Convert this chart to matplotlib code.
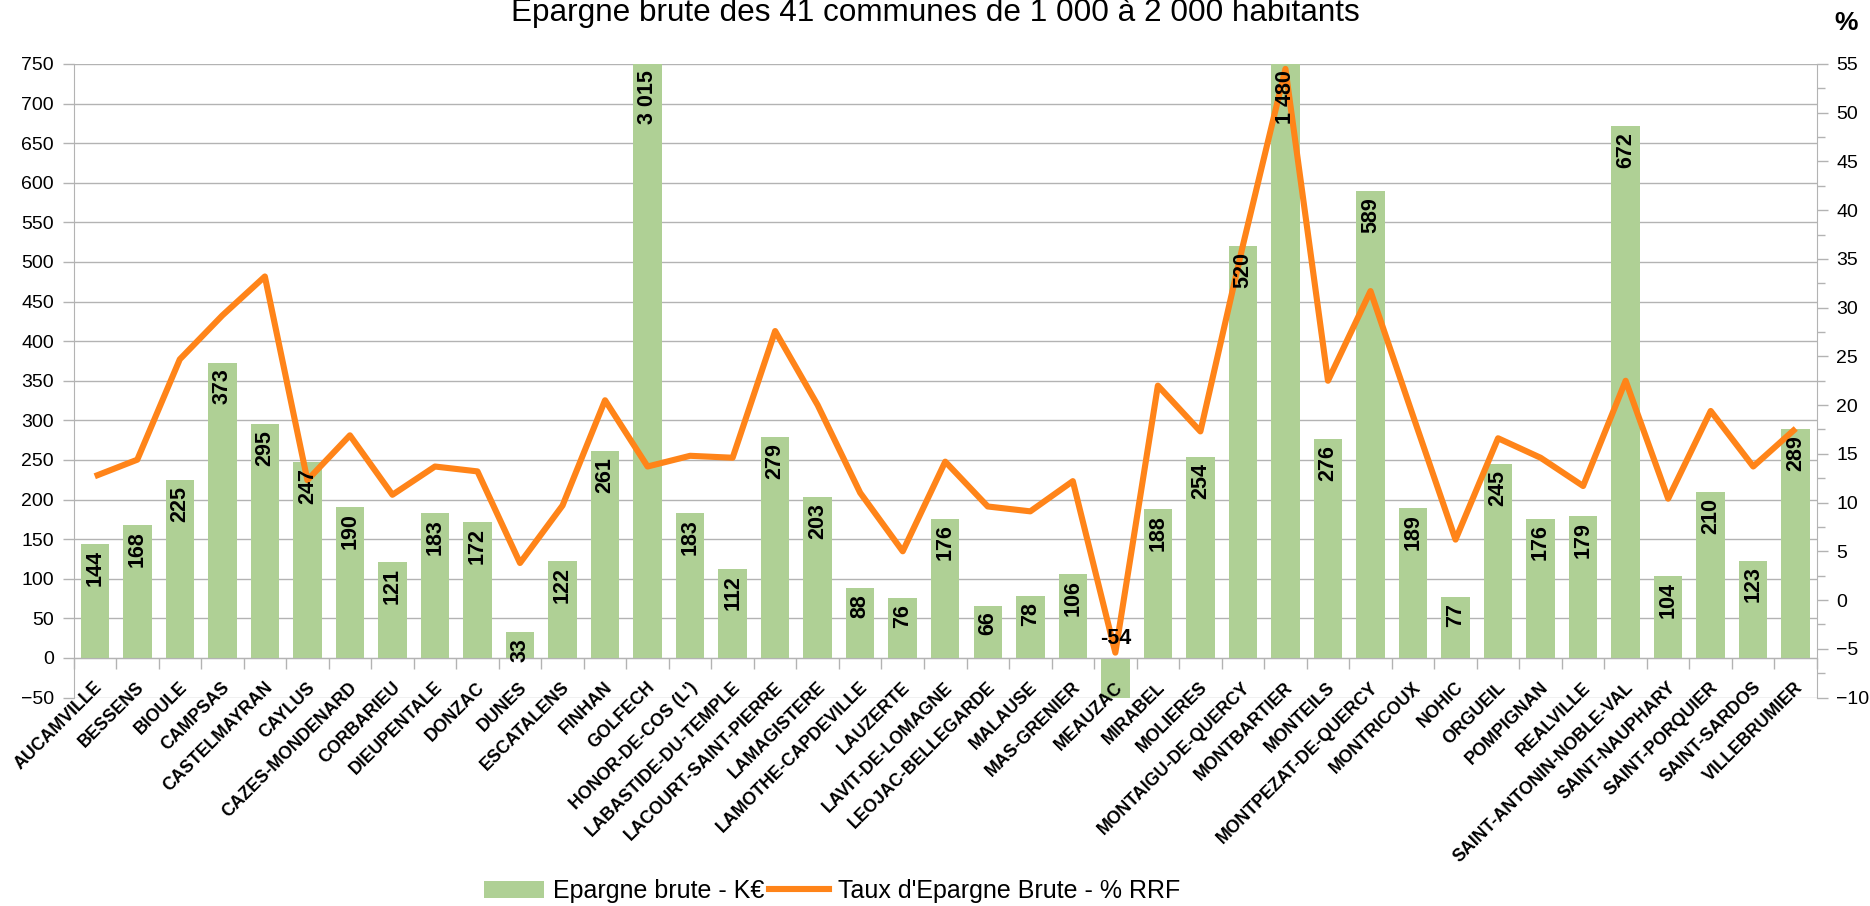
import numpy as np
import matplotlib
matplotlib.use("Agg")
import matplotlib.pyplot as plt
from matplotlib.transforms import ScaledTranslation
from matplotlib.patches import Patch
from matplotlib.lines import Line2D
from matplotlib.ticker import MultipleLocator

plt.rcParams['font.family'] = ['Liberation Sans', 'DejaVu Sans']

communes = ["AUCAMVILLE", "BESSENS", "BIOULE", "CAMPSAS", "CASTELMAYRAN", "CAYLUS",
            "CAZES-MONDENARD", "CORBARIEU", "DIEUPENTALE", "DONZAC", "DUNES", "ESCATALENS",
            "FINHAN", "GOLFECH", "HONOR-DE-COS (L')", "LABASTIDE-DU-TEMPLE",
            "LACOURT-SAINT-PIERRE", "LAMAGISTERE", "LAMOTHE-CAPDEVILLE", "LAUZERTE",
            "LAVIT-DE-LOMAGNE", "LEOJAC-BELLEGARDE", "MALAUSE", "MAS-GRENIER", "MEAUZAC",
            "MIRABEL", "MOLIERES", "MONTAIGU-DE-QUERCY", "MONTBARTIER", "MONTEILS",
            "MONTPEZAT-DE-QUERCY", "MONTRICOUX", "NOHIC", "ORGUEIL", "POMPIGNAN",
            "REALVILLE", "SAINT-ANTONIN-NOBLE-VAL", "SAINT-NAUPHARY", "SAINT-PORQUIER",
            "SAINT-SARDOS", "VILLEBRUMIER"]

epargne_brute = [144, 168, 225, 373, 295, 247, 190, 121, 183, 172, 33, 122, 261, 3015,
                 183, 112, 279, 203, 88, 76, 176, 66, 78, 106, -54, 188, 254, 520, 1480,
                 276, 589, 189, 77, 245, 176, 179, 672, 104, 210, 123, 289]

taux_epargne = [12.7, 14.4, 24.7, 29.2, 33.2, 12.3, 16.9, 10.8, 13.7, 13.2, 3.8, 9.7,
                20.5, 13.7, 14.8, 14.6, 27.6, 20.0, 11.0, 5.0, 14.2, 9.6, 9.1, 12.2,
                -5.4, 22.0, 17.3, 36.4, 54.5, 22.5, 31.7, 18.9, 6.2, 16.6, 14.6, 11.7,
                22.5, 10.4, 19.4, 13.7, 17.6]

title = "Epargne brute des 41 communes de 1 000 à 2 000 habitants"
legend_bar = "Epargne brute - K€"
legend_line = "Taux d'Epargne Brute - % RRF"

GREEN = "#afd095"
ORANGE = "#ff8419"
GRID = "#b3b3b3"

W, H = 1870, 906
fig = plt.figure(figsize=(W / 100, H / 100), dpi=100)
ax = fig.add_axes([73.5 / W, 1 - 697.5 / H, (1817 - 73.5) / W, (697.5 - 64) / H])
ax2 = ax.twinx()

x = np.arange(len(communes))
ax.bar(x, epargne_brute, width=0.67, color=GREEN, zorder=2)
ax.set_xlim(-0.5, len(communes) - 0.5)
ax.set_ylim(-50, 750)
ax.yaxis.set_major_locator(MultipleLocator(50))
ax.set_axisbelow(True)
ax.yaxis.grid(True, color=GRID, linewidth=1.0)

for s in ['top', 'right']:
    ax.spines[s].set_visible(False)
ax.spines['left'].set_color(GRID)
ax.spines['bottom'].set_color(GRID)
ax.spines['bottom'].set_position(('data', 0))
ax.tick_params(axis='y', direction='out', length=7.7, width=1, color=GRID,
               labelsize=14, pad=6.5, labelcolor='black')
ax.set_xticks(np.arange(-0.5, len(communes), 1))
ax.set_xticklabels([])
ax.tick_params(axis='x', direction='out', length=7.7, width=1, color=GRID)

# secondary axis
ax2.plot(x, taux_epargne, color=ORANGE, linewidth=4.4, solid_joinstyle='round',
         solid_capstyle='butt', zorder=3)
ax2.set_ylim(-10, 55)
ax2.yaxis.set_major_locator(MultipleLocator(5))
ax2.yaxis.set_minor_locator(MultipleLocator(2.5))
for s in ['top', 'left', 'bottom']:
    ax2.spines[s].set_visible(False)
ax2.spines['right'].set_color(GRID)
ax2.tick_params(axis='y', which='major', direction='out', length=8, width=1, color=GRID,
                labelsize=14, pad=5.8, labelcolor='black')
ax2.tick_params(axis='y', which='minor', direction='out', length=5.5, width=1, color=GRID)

# bar value labels (on top of the line)
ymax = ax.get_ylim()[1]
for xi, v in zip(x, epargne_brute):
    txt = f"{v:,}".replace(",", " ")
    if v >= 0:
        tr = ax.transData + ScaledTranslation(0, -6 / 100, fig.dpi_scale_trans)
        ax2.text(xi, min(v, ymax), txt, transform=tr, rotation=90, ha='center', va='top',
                 fontsize=15.5, fontweight='bold', zorder=5, clip_on=False)
    else:
        tr = ax.transData + ScaledTranslation(0, 9 / 100, fig.dpi_scale_trans)
        ax2.text(xi, 0, txt, transform=tr, ha='center', va='bottom',
                 fontsize=15.5, fontweight='bold', zorder=5, clip_on=False)

# category labels
trc = ax.transData + ScaledTranslation(5 / 100, -27 / 100, fig.dpi_scale_trans)
for xi, name in zip(x, communes):
    ax.text(xi, 0, name, transform=trc, rotation=45, rotation_mode='anchor',
            ha='right', va='center', fontsize=12.8, fontweight='bold', clip_on=False)

fig.text(0.5, 1 - 20.7 / H, title, ha='center', va='baseline', fontsize=22.7)
fig.text(1846 / W, 1 - 23 / H, "%", ha='center', va='center', fontsize=19, fontweight='bold')

handles = [Patch(facecolor=GREEN, edgecolor='none'),
           Line2D([], [], color=ORANGE, linewidth=4.4)]
fig.legend(handles, [legend_bar, legend_line], loc='center left',
           bbox_to_anchor=(484 / W, 1 - 891 / H), ncol=2, frameon=False, fontsize=18,
           handlelength=2.4, handleheight=0.65, handletextpad=0.36, columnspacing=0.2,
           borderpad=0, borderaxespad=0)

fig.savefig("out.png", dpi=100)
